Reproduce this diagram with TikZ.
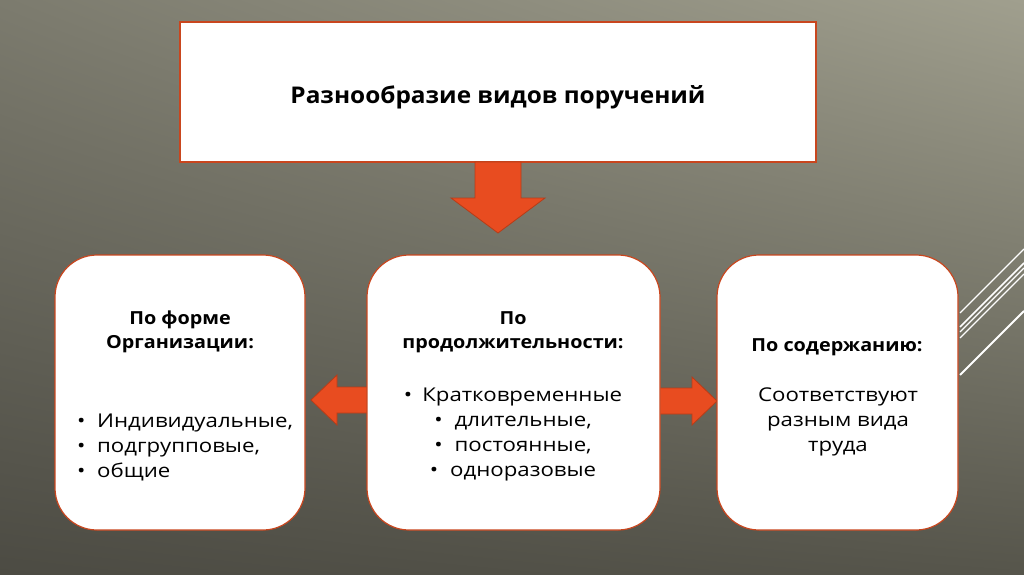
\documentclass[tikz,border=0pt]{standalone}
\usepackage{fontspec}
\setmainfont{Open Sans}
\newfontfamily\bodyfont{Open Sans}[FakeStretch=1.17]
\newfontfamily\headfont{Open Sans}[FakeStretch=1.1]
\newfontfamily\titlefont{Open Sans}[FakeStretch=1.06]
\usetikzlibrary{shadings}
\definecolor{bgTL}{HTML}{7C7B6E}
\definecolor{bgTR}{HTML}{A09F8E}
\definecolor{bgBL}{HTML}{4C4B43}
\definecolor{bgBR}{HTML}{56554B}
\definecolor{boxline}{HTML}{C9461E}
\definecolor{arrfill}{HTML}{E84C20}
\definecolor{arrline}{HTML}{B73C18}
\begin{document}
\begin{tikzpicture}[x=1pt,y=-1pt,
  topbox/.style={draw=boxline, line width=1.6pt, fill=white, minimum width=636pt, minimum height=140pt, inner sep=0pt},
  box/.style={draw=boxline, line width=1.2pt, fill=white, rounded corners=42pt, minimum height=275pt, inner sep=0pt},
  arr/.style={fill=arrfill, draw=arrline, line width=0.8pt},
  hd/.style={font=\headfont\bfseries\fontsize{18}{24}\selectfont, anchor=base, inner sep=0pt},
  tx/.style={font=\bodyfont\fontsize{19}{24}\selectfont, anchor=base, inner sep=0pt},
  deco/.style={draw=white, line width=1.1pt}]
\useasboundingbox (0,0) rectangle (1024,574);
\shade[upper left=bgTL, upper right=bgTR, lower left=bgBL, lower right=bgBR] (0,0) rectangle (1024,574);
% decorative lines
\draw[deco] (960,313) -- (1024,249);
\draw[deco, line width=1.6pt] (960,327) -- (1024,263);
\draw[deco] (960,332) -- (1024,268);
\draw[deco] (960,338) -- (1024,274);
\draw[deco, line width=2pt] (960,375) -- (1024,311);
% top box
\node[topbox] (top) at (498,92) {};
\node[font=\titlefont\bfseries\fontsize{23}{28}\selectfont, anchor=base, inner sep=0pt] (title) at (498,103) {Разнообразие видов поручений};
% arrows
\draw[arr] (475,162) -- (521,162) -- (521,198) -- (545,198) -- (498,233) -- (451,198) -- (475,198) -- cycle;
\draw[arr] (368,387) -- (337,387) -- (337,375) -- (311,400) -- (337,425) -- (337,413) -- (368,413) -- cycle;
\draw[arr] (659,388) -- (692,388) -- (692,377) -- (717,401) -- (692,425) -- (692,414) -- (659,414) -- cycle;
% boxes
\node[box, minimum width=250pt] (L) at (180,392.5) {};
\node[box, minimum width=293pt] (M) at (513.5,392.5) {};
\node[box, minimum width=241pt] (R) at (837.5,392.5) {};
% left texts
\node[hd] (L1) at (180,324) {По форме};
\node[hd] (L2) at (180,348) {Организации:};
\node[tx, anchor=base west] (L3) at (77,427) {\makebox[20pt][l]{•}Индивидуальные,};
\node[tx, anchor=base west] (L4) at (77,452) {\makebox[20pt][l]{•}подгрупповые,};
\node[tx, anchor=base west] (L5) at (77,477) {\makebox[20pt][l]{•}общие};
% middle texts
\node[hd] (M1) at (513,324) {По};
\node[hd] (M2) at (513,348) {продолжительности:};
\node[tx] (M3) at (513,401) {•\hspace{10pt}Кратковременные};
\node[tx] (M4) at (513,426) {•\hspace{12pt}длительные,};
\node[tx] (M5) at (513,451) {•\hspace{12pt}постоянные,};
\node[tx] (M6) at (513,476) {•\hspace{12pt}одноразовые};
% right texts
\node[hd] (R1) at (837,351) {По содержанию:};
\node[tx] (R2) at (838,401) {Соответствуют};
\node[tx] (R3) at (838,426) {разным вида};
\node[tx] (R4) at (838,451) {труда};
\end{tikzpicture}
\end{document}
